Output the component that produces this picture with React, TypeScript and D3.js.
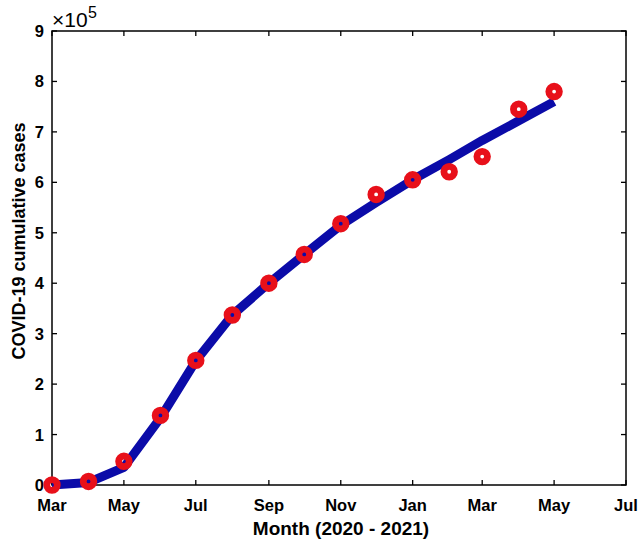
import React from "react";
import * as d3 from "d3";

const months: string[] = [
  "2020-03", "2020-04", "2020-05", "2020-06", "2020-07", "2020-08", "2020-09",
  "2020-10", "2020-11", "2020-12", "2021-01", "2021-02", "2021-03", "2021-04", "2021-05",
];
// observed cumulative cases (×10^5)
const observed: number[] = [0.0, 0.07, 0.47, 1.38, 2.47, 3.37, 4.0, 4.57, 5.18, 5.76, 6.05, 6.21, 6.51, 7.45, 7.8];
// model fit (×10^5)
const fitted: number[] = [0.0, 0.05, 0.35, 1.33, 2.46, 3.37, 4.0, 4.57, 5.15, 5.6, 6.05, 6.45, 6.83, 7.22, 7.6];

const xTickDates: string[] = ["2020-03", "2020-05", "2020-07", "2020-09", "2020-11", "2021-01", "2021-03", "2021-05", "2021-07"];
const xTickLabels: string[] = ["Mar", "May", "Jul", "Sep", "Nov", "Jan", "Mar", "May", "Jul"];
const yTicks: number[] = [0, 1, 2, 3, 4, 5, 6, 7, 8, 9];

const W = 641;
const H = 545;
const left = 52;
const right = 626;
const top = 31;
const bottom = 485;

const parse = d3.timeParse("%Y-%m");

export default function App() {
  const x = d3
    .scaleTime()
    .domain([parse("2020-03")!, parse("2021-07")!])
    .range([left, right]);
  const y = d3.scaleLinear().domain([0, 9]).range([bottom, top]);

  const dates = months.map((m) => parse(m)!);
  const line = d3
    .line<number>()
    .x((_, i) => x(dates[i]))
    .y((d) => y(d))
    .curve(d3.curveLinear);

  const font = "'Liberation Sans', Arial, sans-serif";
  const tickLen = 5;

  return (
    <svg
      width={W}
      height={H}
      style={{ position: "absolute", left: 0, top: 0, background: "#fff" }}
      fontFamily={font}
      fontWeight="bold"
    >
      <rect x={0} y={0} width={W} height={H} fill="#fff" />
      {/* frame */}
      <rect x={left} y={top} width={right - left} height={bottom - top} fill="none" stroke="#000" strokeWidth={1.5} />
      {/* x ticks */}
      {xTickDates.map((d, i) => {
        const xv = x(parse(d)!);
        return (
          <g key={"xt" + i}>
            <line x1={xv} x2={xv} y1={bottom} y2={bottom - tickLen} stroke="#000" strokeWidth={1.3} />
            <line x1={xv} x2={xv} y1={top} y2={top + tickLen} stroke="#000" strokeWidth={1.3} />
            <text x={xv} y={511} textAnchor="middle" fontSize={16.5} fill="#000">
              {xTickLabels[i]}
            </text>
          </g>
        );
      })}
      {/* y ticks */}
      {yTicks.map((t) => {
        const yv = y(t);
        return (
          <g key={"yt" + t}>
            <line x1={left} x2={left + tickLen} y1={yv} y2={yv} stroke="#000" strokeWidth={1.3} />
            <line x1={right} x2={right - tickLen} y1={yv} y2={yv} stroke="#000" strokeWidth={1.3} />
            <text x={44} y={yv + 6} textAnchor="end" fontSize={16.5} fill="#000">
              {t}
            </text>
          </g>
        );
      })}
      {/* exponent */}
      <text x={52} y={27} fontSize={21} fill="#000" fontWeight="normal">
        ×10
      </text>
      <text x={88} y={18} fontSize={16} fill="#000" fontWeight="normal">
        5
      </text>
      {/* axis labels */}
      <text x={(left + right) / 2 + 2} y={535} textAnchor="middle" fontSize={19} fill="#000">
        Month (2020 - 2021)
      </text>
      <text
        transform={`translate(25,241) rotate(-90)`}
        textAnchor="middle"
        fontSize={18}
        fill="#000"
      >
        COVID-19 cumulative cases
      </text>
      {/* fitted line */}
      <path d={line(fitted) || ""} fill="none" stroke="#0b0ba8" strokeWidth={9} strokeLinejoin="round" />
      {/* observed markers */}
      {observed.map((v, i) => (
        <circle
          key={"m" + i}
          cx={x(dates[i])}
          cy={y(v)}
          r={5.3}
          fill="none"
          stroke="#e8101a"
          strokeWidth={6.8}
        />
      ))}
    </svg>
  );
}
